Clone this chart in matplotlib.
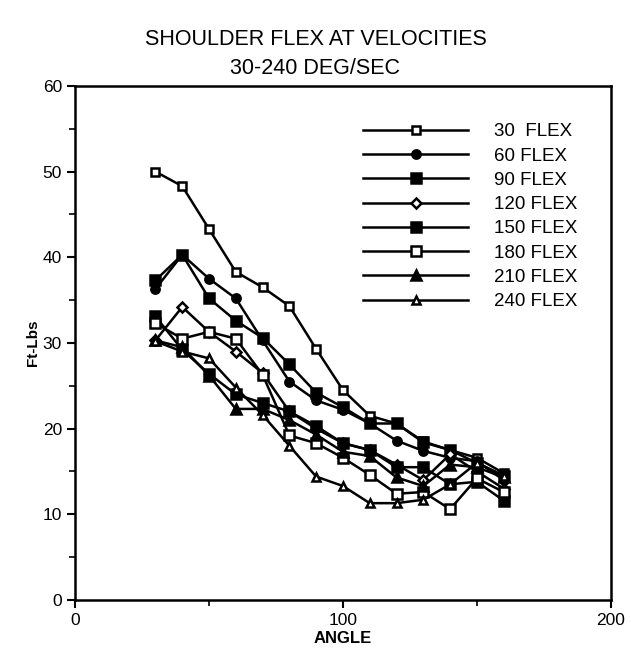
import numpy as np
import matplotlib
matplotlib.use("Agg")
import matplotlib.pyplot as plt
from matplotlib.ticker import MultipleLocator

plt.rcParams['font.family'] = ['Liberation Sans', 'DejaVu Sans']

# angle positions shared by every series
angles = [30, 40, 50, 60, 70, 80, 90, 100, 110, 120, 130, 140, 150, 160]

flex_30 = [50.0, 48.3, 43.3, 38.3, 36.5, 34.3, 29.3, 24.5, 21.5, 20.6, 18.5, 17.5, 16.6, 14.8]
flex_60 = [36.3, 40.3, 37.5, 35.2, 30.3, 25.5, 23.3, 22.2, 20.6, 18.6, 17.4, 16.6, 16.2, 14.0]
flex_90 = [37.3, 40.3, 35.2, 32.6, 30.6, 27.5, 24.2, 22.5, 20.6, 20.6, 18.4, 17.5, 16.0, 14.5]
flex_120 = [30.3, 34.2, 31.3, 29.0, 26.5, 22.0, 20.0, 18.3, 17.5, 15.8, 14.0, 17.0, 15.0, 13.0]
flex_150 = [33.1, 29.2, 26.4, 24.0, 23.0, 22.0, 20.3, 18.3, 17.5, 15.5, 15.5, 13.5, 13.8, 11.6]
flex_180 = [32.3, 30.5, 31.3, 30.5, 26.3, 19.2, 18.3, 16.6, 14.6, 12.4, 12.6, 10.6, 14.2, 12.6]
flex_210 = [30.3, 29.5, 26.2, 22.3, 22.3, 21.0, 19.3, 17.3, 16.8, 14.3, 13.3, 15.8, 15.5, 14.3]
flex_240 = [30.2, 29.0, 28.2, 24.8, 21.6, 18.0, 14.4, 13.3, 11.3, 11.3, 11.7, 13.5, 16.0, 14.5]

labels = ['30  FLEX', '60 FLEX', '90 FLEX', '120 FLEX', '150 FLEX', '180 FLEX', '210 FLEX', '240 FLEX']
series = [flex_30, flex_60, flex_90, flex_120, flex_150, flex_180, flex_210, flex_240]

# marker, face colour, size
styles = [
    ('s', 'white', 6),
    ('o', 'black', 6),
    ('s', 'black', 7),
    ('D', 'white', 5),
    ('s', 'black', 7),
    ('s', 'white', 7),
    ('^', 'black', 7),
    ('^', 'white', 6),
]

fig = plt.figure(figsize=(6.31, 6.54), dpi=100)
ax = fig.add_axes([0.119, 0.0826, 0.849, 0.786])

for vals, lab, (mk, fc, ms) in zip(series, labels, styles):
    ax.plot(angles, vals, color='black', lw=1.8, marker=mk, mfc=fc, mec='black',
            mew=1.8, ms=ms, label=lab)

ax.set_xlim(0, 200)
ax.set_ylim(0, 60)
ax.set_xticks([0, 100, 200])
ax.xaxis.set_minor_locator(MultipleLocator(50))
ax.yaxis.set_major_locator(MultipleLocator(10))
ax.yaxis.set_minor_locator(MultipleLocator(5))
ax.tick_params(axis='both', which='major', direction='out', length=6, width=1.5,
               labelsize=12.5, top=False, right=False)
ax.tick_params(axis='both', which='minor', direction='out', length=4, width=1.2,
               top=False, right=False)
for sp in ax.spines.values():
    sp.set_linewidth(1.8)

ax.set_xlabel('ANGLE', fontsize=12, fontweight='bold', labelpad=2)
ax.set_ylabel('Ft-Lbs', fontsize=11, fontweight='bold', labelpad=2)
fig.text(0.5, 0.940, 'SHOULDER FLEX AT VELOCITIES', ha='center', va='center', fontsize=15.5)
fig.text(0.5, 0.895, '30-240 DEG/SEC', ha='center', va='center', fontsize=15.5)

ax.legend(loc='upper right', bbox_to_anchor=(0.97, 0.96), frameon=False, fontsize=13.5,
          handlelength=5.6, handletextpad=1.4, labelspacing=0.38)

fig.savefig('out.png', dpi=100)
